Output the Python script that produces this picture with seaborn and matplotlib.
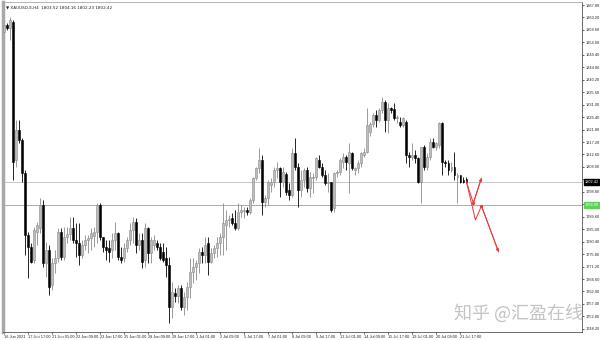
import numpy as np
import pandas as pd
import matplotlib
matplotlib.use("Agg")
import matplotlib.pyplot as plt
import matplotlib.transforms as mtransforms
import seaborn as sns

# ---------------- data (XAUUSD H4) ----------------
opens = [1857.8, 1860.4, 1859.3, 1861.5, 1810.6, 1821.7, 1818.0, 1805.8, 1782.9, 1778.5,
         1773.7, 1784.0, 1785.5, 1794.0, 1772.6, 1777.4, 1764.4, 1772.6, 1774.4, 1784.0,
         1774.8, 1782.2, 1783.3, 1785.5, 1781.0, 1779.9, 1775.5, 1779.2, 1781.0, 1781.8,
         1782.5, 1784.0, 1794.0, 1782.2, 1778.5, 1778.1, 1777.4, 1781.0, 1783.6, 1774.8,
         1774.4, 1778.1, 1781.0, 1784.7, 1787.7, 1779.2, 1781.0, 1773.7, 1785.5, 1776.2,
         1779.2, 1779.9, 1778.5, 1776.6, 1774.4, 1771.8, 1756.3, 1761.5, 1760.4, 1763.3,
         1756.3, 1760.0, 1763.7, 1769.2, 1771.1, 1772.6, 1776.6, 1775.5, 1779.9, 1772.9,
         1776.2, 1778.1, 1779.9, 1782.2, 1786.6, 1788.4, 1789.2, 1787.3, 1785.5, 1791.4,
         1791.8, 1792.2, 1791.4, 1795.8, 1803.9, 1807.6, 1810.6, 1795.1, 1796.6, 1801.4,
         1802.5, 1806.9, 1807.6, 1802.5, 1805.4, 1799.5, 1797.7, 1813.2, 1808.0, 1799.5,
         1803.2, 1806.9, 1800.2, 1803.9, 1804.3, 1810.6, 1808.0, 1805.0, 1802.1, 1802.5,
         1792.9, 1805.8, 1806.2, 1809.8, 1811.7, 1809.5, 1813.2, 1806.9, 1807.6, 1809.5,
         1812.4, 1813.5, 1821.0, 1823.9, 1827.2, 1825.3, 1829.0, 1832.0, 1825.3, 1829.8,
         1829.4, 1826.1, 1824.6, 1823.5, 1824.6, 1812.4, 1811.7, 1812.4, 1811.3, 1802.5,
         1815.4, 1808.0, 1811.7, 1817.2, 1815.4, 1816.1, 1824.2, 1809.8, 1809.5, 1806.9,
         1808.0, 1804.3, 1805.0, 1803.2, 1803.52]
highs = [1861.5, 1861.2, 1863.4, 1862.3, 1825.4, 1825.3, 1818.7, 1806.9, 1784.0, 1779.9,
         1785.8, 1787.7, 1796.6, 1795.8, 1780.3, 1779.2, 1774.4, 1777.4, 1785.5, 1785.5,
         1785.8, 1785.8, 1789.5, 1789.5, 1787.3, 1787.3, 1781.0, 1782.9, 1782.9, 1785.5,
         1785.8, 1794.7, 1794.7, 1782.2, 1781.0, 1781.0, 1783.6, 1787.7, 1784.0, 1778.5,
         1779.9, 1782.2, 1787.3, 1789.5, 1789.2, 1783.6, 1783.6, 1787.3, 1785.8, 1782.2,
         1782.9, 1781.0, 1779.9, 1779.9, 1778.5, 1774.8, 1765.5, 1763.3, 1764.4, 1764.4,
         1761.8, 1765.5, 1774.4, 1774.4, 1773.7, 1778.1, 1778.5, 1782.2, 1782.2, 1778.1,
         1779.2, 1782.2, 1783.6, 1794.7, 1792.1, 1790.3, 1791.0, 1792.1, 1794.7, 1794.0,
         1793.2, 1793.2, 1796.6, 1804.3, 1808.0, 1815.0, 1812.4, 1797.7, 1803.2, 1803.9,
         1808.0, 1809.8, 1808.0, 1808.0, 1806.2, 1802.1, 1815.0, 1818.7, 1809.5, 1806.9,
         1807.6, 1808.0, 1806.2, 1805.8, 1811.7, 1812.4, 1809.5, 1806.9, 1805.8, 1802.5,
         1806.2, 1806.9, 1811.3, 1813.2, 1812.4, 1816.9, 1813.5, 1808.0, 1810.6, 1813.5,
         1815.0, 1829.8, 1824.6, 1827.9, 1829.0, 1829.8, 1833.8, 1832.7, 1831.6, 1830.1,
         1831.6, 1827.2, 1826.5, 1826.5, 1825.3, 1813.5, 1816.9, 1814.3, 1811.7, 1815.4,
         1816.1, 1813.2, 1818.7, 1818.7, 1817.2, 1824.6, 1824.6, 1810.6, 1810.6, 1809.8,
         1813.5, 1805.8, 1805.0, 1804.3, 1804.16]
lows = [1855.6, 1858.6, 1854.9, 1803.2, 1808.0, 1816.9, 1802.5, 1775.5, 1767.0, 1772.6,
        1772.6, 1779.2, 1783.6, 1771.1, 1767.4, 1760.7, 1762.6, 1768.9, 1772.9, 1773.7,
        1773.7, 1779.9, 1781.0, 1779.9, 1774.8, 1771.8, 1774.4, 1777.4, 1776.2, 1777.4,
        1778.5, 1779.9, 1781.0, 1776.6, 1773.7, 1772.9, 1774.4, 1777.4, 1773.7, 1772.6,
        1772.9, 1776.6, 1779.2, 1779.9, 1776.2, 1777.4, 1770.7, 1771.1, 1772.6, 1772.6,
        1777.4, 1777.4, 1773.7, 1772.9, 1767.4, 1750.4, 1752.2, 1758.2, 1757.8, 1755.2,
        1753.3, 1755.2, 1759.6, 1765.2, 1766.3, 1768.9, 1772.6, 1772.6, 1768.1, 1772.6,
        1774.4, 1774.8, 1775.5, 1775.5, 1777.4, 1785.8, 1786.6, 1784.7, 1784.7, 1789.5,
        1789.2, 1790.3, 1790.6, 1794.7, 1803.2, 1805.8, 1790.3, 1793.2, 1794.0, 1798.8,
        1800.6, 1803.9, 1796.9, 1800.6, 1797.7, 1795.8, 1796.9, 1806.9, 1793.2, 1796.9,
        1800.6, 1798.8, 1796.9, 1798.4, 1803.2, 1807.6, 1804.3, 1801.4, 1798.8, 1791.4,
        1791.4, 1804.3, 1805.0, 1807.6, 1806.9, 1798.4, 1806.9, 1805.0, 1805.8, 1808.0,
        1811.7, 1813.2, 1819.4, 1822.8, 1822.8, 1824.6, 1827.9, 1820.9, 1820.6, 1827.9,
        1825.3, 1824.2, 1822.8, 1822.8, 1809.5, 1808.0, 1810.6, 1809.5, 1802.1, 1794.7,
        1806.9, 1806.9, 1810.6, 1815.0, 1814.3, 1815.0, 1805.0, 1808.0, 1805.0, 1806.2,
        1803.2, 1794.7, 1802.1, 1802.1, 1802.23]
closes = [1860.4, 1859.3, 1862.3, 1809.8, 1821.7, 1818.0, 1805.8, 1782.9, 1778.5, 1772.9,
          1784.7, 1786.6, 1794.0, 1772.6, 1777.4, 1763.7, 1772.6, 1774.4, 1784.0, 1774.8,
          1782.2, 1783.3, 1785.5, 1781.0, 1779.9, 1775.5, 1779.2, 1781.0, 1781.8, 1783.6,
          1784.0, 1794.0, 1782.2, 1778.5, 1777.4, 1776.6, 1781.0, 1783.6, 1774.8, 1773.7,
          1778.1, 1781.0, 1784.7, 1787.7, 1779.2, 1781.0, 1772.9, 1785.5, 1776.2, 1781.0,
          1781.0, 1778.5, 1774.4, 1773.7, 1771.8, 1756.3, 1761.8, 1760.4, 1763.3, 1756.3,
          1760.0, 1763.7, 1769.2, 1771.1, 1772.6, 1776.6, 1775.5, 1779.2, 1772.9, 1776.2,
          1778.1, 1779.9, 1782.2, 1787.3, 1788.4, 1788.8, 1787.3, 1785.5, 1791.4, 1792.1,
          1792.2, 1791.4, 1795.8, 1803.9, 1807.6, 1810.6, 1795.1, 1796.6, 1802.5, 1802.5,
          1806.9, 1807.6, 1802.5, 1806.2, 1798.8, 1797.7, 1813.2, 1808.0, 1799.5, 1803.2,
          1806.9, 1800.2, 1804.3, 1804.3, 1811.3, 1808.0, 1805.0, 1802.1, 1802.5, 1792.1,
          1805.8, 1806.2, 1810.6, 1811.7, 1809.8, 1813.5, 1807.6, 1807.6, 1809.5, 1813.2,
          1813.5, 1823.5, 1823.9, 1827.2, 1825.3, 1829.0, 1832.0, 1825.3, 1829.8, 1829.0,
          1826.1, 1826.5, 1823.5, 1826.1, 1812.4, 1811.7, 1812.4, 1811.3, 1802.5, 1815.4,
          1808.0, 1811.7, 1817.2, 1815.4, 1816.9, 1824.2, 1809.8, 1809.5, 1806.9, 1808.0,
          1805.0, 1805.0, 1802.5, 1802.5, 1802.42]

date_labels = ["16 Jun 2021", "17 Jun 17:00", "21 Jun 01:00", "22 Jun 09:00", "23 Jun 17:00",
               "25 Jun 01:00", "28 Jun 09:00", "29 Jun 17:00", "1 Jul 01:00", "2 Jul 09:00",
               "5 Jul 17:00", "7 Jul 01:00", "8 Jul 09:00", "9 Jul 17:00", "13 Jul 01:00",
               "14 Jul 09:00", "15 Jul 17:00", "19 Jul 01:00", "20 Jul 09:00", "21 Jul 17:00"]
label_every = 8

price_ticks = [1867.80, 1863.20, 1858.60, 1854.00, 1849.40, 1844.80, 1840.20, 1835.60, 1831.00,
               1826.40, 1821.80, 1817.20, 1812.60, 1808.00, 1803.40, 1798.80, 1794.20, 1789.60,
               1785.00, 1780.40, 1775.80, 1771.20, 1766.60, 1762.00, 1757.40, 1752.80, 1748.20]

last_price = 1802.42
level_price = 1794.00

# projected scenario paths (bar index, price)
path_a_bar = [154, 156.3, 159.0]
path_a_price = [1802.5, 1794.7, 1803.9]
path_b_bar = [154, 157.0, 159.0, 164.7]
path_b_price = [1802.5, 1788.4, 1793.6, 1776.6]

header = "\u25BC XAUUSD-E,H4  1803.52 1804.16 1802.23 1802.42"
watermark = "知乎 @汇盈在线"

# ---------------- figure ----------------
sns.set_style("white")
plt.rcParams['font.family'] = ['Liberation Sans', 'DejaVu Sans', 'Noto Sans CJK SC']

df = pd.DataFrame({"open": opens, "high": highs, "low": lows, "close": closes})
df["bar"] = np.arange(len(df))
df["up"] = df["close"] >= df["open"]

fig = plt.figure(figsize=(6, 3.4), dpi=100)
ax = fig.add_axes([0.005, 0.024, 0.965, 0.97])

up_body = "#bdbdbd"
up_edge = "#8a8a8a"
dn_col = "#000000"
tick_fs = 2.8

up = df[df["up"]]
dn = df[~df["up"]]

# wicks
ax.vlines(up["bar"], up["low"], up["high"], color=up_edge, lw=0.6, zorder=2)
ax.vlines(dn["bar"], dn["low"], dn["high"], color=dn_col, lw=0.6, zorder=2)

# bodies
def body_h(d):
    return np.maximum((d["close"] - d["open"]).abs(), 0.35)

ax.bar(up["bar"], body_h(up), bottom=np.minimum(up["open"], up["close"]),
       width=0.62, color=up_body, edgecolor=up_edge, linewidth=0.4, zorder=3)
ax.bar(dn["bar"], body_h(dn), bottom=np.minimum(dn["open"], dn["close"]),
       width=0.62, color=dn_col, edgecolor=dn_col, linewidth=0.4, zorder=3)

# horizontal lines
ax.axhline(last_price, color="#c8c8c8", lw=0.7, zorder=1)
ax.axhline(level_price, color="#77d077", lw=0.7, zorder=1)

# scenario paths
pa = pd.DataFrame({"bar": path_a_bar, "price": path_a_price})
pb = pd.DataFrame({"bar": path_b_bar, "price": path_b_price})
sns.lineplot(data=pa, x="bar", y="price", ax=ax, color="#e8383a", lw=0.7, sort=False,
             estimator=None, zorder=5)
sns.lineplot(data=pb, x="bar", y="price", ax=ax, color="#e8383a", lw=0.7, sort=False,
             estimator=None, zorder=5)
for bx, py in ((path_a_bar, path_a_price), (path_b_bar, path_b_price)):
    ax.annotate("", xy=(bx[-1], py[-1]), xytext=(bx[-2], py[-2]),
                arrowprops=dict(arrowstyle="-|>", color="#e8383a", lw=0.7,
                                mutation_scale=4, shrinkA=0, shrinkB=0), zorder=6)
ax.plot([path_a_bar[1]], [path_a_price[1]], marker="o", ms=1.3, color="#e8383a", zorder=6)
ax.plot([path_b_bar[2]], [path_b_price[2]], marker="o", ms=1.3, color="#e8383a", zorder=6)

# axes limits and ticks
ax.set_xlim(-0.4, 192.5)
ax.set_ylim(1747.1, 1868.9)
ax.yaxis.tick_right()
ax.set_yticks(price_ticks)
# labels hidden behind the price boxes, as in the terminal
ylabels = []
for v in price_ticks:
    if abs(v - last_price) < 2.5 or abs(v - level_price) < 2.5:
        ylabels.append("")
    else:
        ylabels.append(f"{v:.2f}")
ax.set_yticklabels(ylabels, fontsize=tick_fs, color="#222222")
xt = np.arange(0, len(date_labels) * label_every, label_every)
ax.set_xticks(xt)
ax.set_xticklabels(date_labels, fontsize=tick_fs, ha="left", color="#222222")
ax.tick_params(axis="both", which="both", length=1.5, width=0.5, pad=1.0,
               colors="#222222", direction="out", bottom=True, right=True, left=False)
ax.set_xlabel("")
ax.set_ylabel("")

for s in ("top", "bottom", "right"):
    ax.spines[s].set_color("#555555")
    ax.spines[s].set_linewidth(0.6)
ax.spines["left"].set_color("#a8a8a8")
ax.spines["left"].set_linewidth(2.5)
ax.spines["top"].set_color("#a8a8a8")

# price boxes on right axis
trans = mtransforms.blended_transform_factory(ax.transAxes, ax.transData)
ax.text(1.004, last_price, f"{last_price:.2f}", transform=trans, fontsize=tick_fs,
        color="white", va="center", ha="left",
        bbox=dict(boxstyle="square,pad=0.2", fc="black", ec="black"), zorder=10,
        clip_on=False)
ax.text(1.004, level_price, f"{level_price:.2f}", transform=trans, fontsize=tick_fs,
        color="white", va="center", ha="left",
        bbox=dict(boxstyle="square,pad=0.2", fc="#5ccf5c", ec="#5ccf5c"), zorder=10,
        clip_on=False)

# header
ax.text(0.006, 0.988, header, transform=ax.transAxes, fontsize=3.0, color="#222222",
        va="top", ha="left", family=["DejaVu Sans"])

# watermark
fig.text(0.757, 0.077, watermark, fontsize=13, color="#c4c4c4", ha="left", va="center",
         family=["Noto Sans CJK SC", "DejaVu Sans"], zorder=20)

fig.savefig("out.png", dpi=100, facecolor="white")
